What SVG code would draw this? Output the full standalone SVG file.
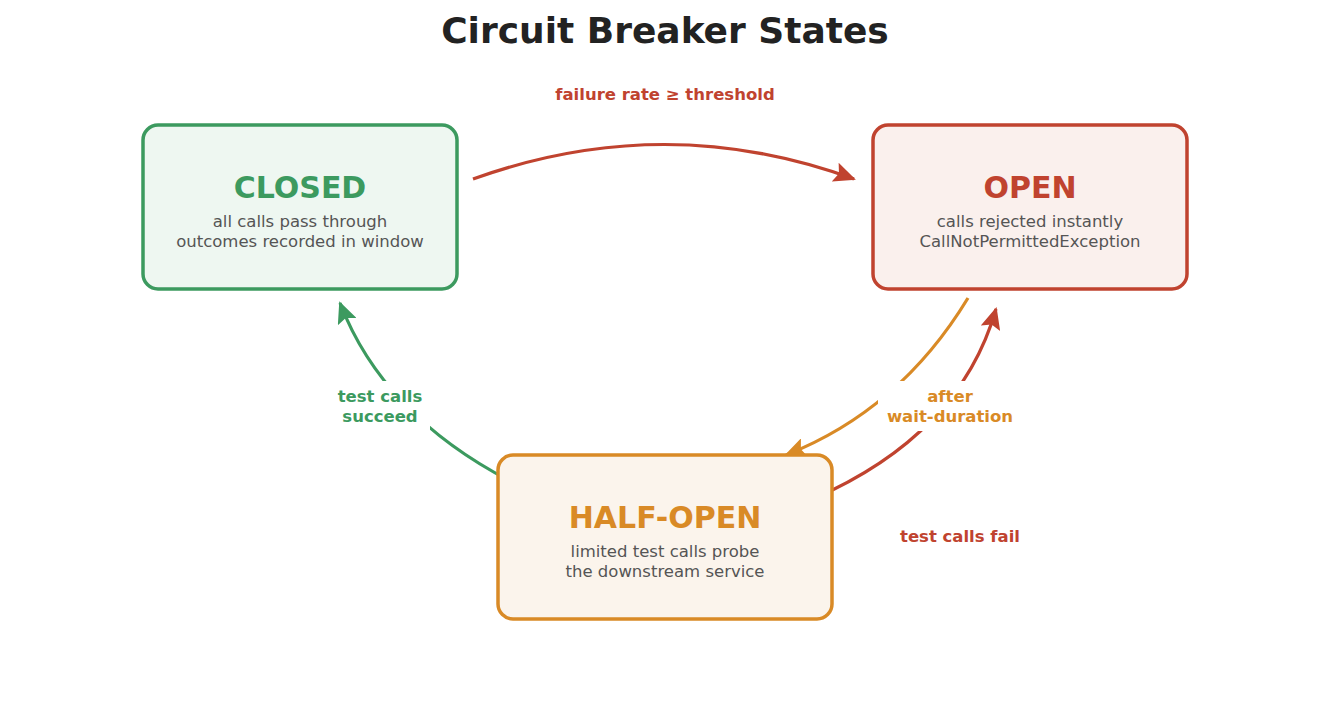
<svg xmlns="http://www.w3.org/2000/svg" width="1330" height="707" viewBox="0 0 1330 707">
<style>
text{font-family:"DejaVu Sans","Noto Sans",sans-serif;text-anchor:middle}
.t{font-size:30px;font-weight:bold}
.s{font-size:16.5px;fill:#555}
.l{font-size:16.5px;font-weight:bold}
.c{fill:none;stroke-width:3.2}
</style>
<defs>
<marker id="mr" viewBox="0 0 10 10" refX="9" refY="5" markerWidth="6" markerHeight="6" orient="auto" markerUnits="userSpaceOnUse" style="overflow:visible"><path d="M0,0L10,5L0,10z" fill="#c0432f" transform="scale(2.2) translate(-5,-5) translate(5,5)"/></marker>
<marker id="ar" markerWidth="22" markerHeight="20" refX="20" refY="10" orient="auto" markerUnits="userSpaceOnUse"><path d="M0,0L22,10L0,20L4,10z" fill="#c0432f"/></marker>
<marker id="ag" markerWidth="22" markerHeight="20" refX="20" refY="10" orient="auto" markerUnits="userSpaceOnUse"><path d="M0,0L22,10L0,20L4,10z" fill="#3c9a5f"/></marker>
<marker id="ao" markerWidth="22" markerHeight="20" refX="20" refY="10" orient="auto" markerUnits="userSpaceOnUse"><path d="M0,0L22,10L0,20L4,10z" fill="#d98a26"/></marker>
</defs>
<rect width="1330" height="707" fill="#fff"/>
<text x="665" y="43" style="font-size:36px;font-weight:bold;fill:#222">Circuit Breaker States</text>
<g id="connectors">
<path class="c" stroke="#c0432f" d="M473,179 Q665,110 854,179" marker-end="url(#ar)"/>
<path class="c" stroke="#3c9a5f" d="M522,487 Q385,420 340,303" marker-end="url(#ag)"/>
<path class="c" stroke="#d98a26" d="M968,298 Q900,410 786,455" marker-end="url(#ao)"/>
<path class="c" stroke="#c0432f" d="M813,499 Q960,435 996,309" marker-end="url(#ar)"/>
<rect x="332" y="381" width="98" height="50" fill="#fff"/>
<rect x="878" y="381" width="146" height="50" fill="#fff"/>
<text class="l" x="665" y="100" fill="#c0432f">failure rate ≥ threshold</text>
<text class="l" x="380" y="402" fill="#3c9a5f">test calls</text>
<text class="l" x="380" y="422" fill="#3c9a5f">succeed</text>
<text class="l" x="950" y="402" fill="#d98a26">after</text>
<text class="l" x="950" y="422" fill="#d98a26">wait-duration</text>
<text class="l" x="960" y="542" fill="#c0432f">test calls fail</text>
</g>
<g id="closed">
<rect x="143" y="125" width="314" height="164" rx="15" fill="#eef7f1" stroke="#3c9a5f" stroke-width="3.5"/>
<text class="t" x="300" y="198" fill="#3c9a5f">CLOSED</text>
<text class="s" x="300" y="227">all calls pass through</text>
<text class="s" x="300" y="247">outcomes recorded in window</text>
</g>
<g id="open">
<rect x="873" y="125" width="314" height="164" rx="15" fill="#faf0ed" stroke="#c0432f" stroke-width="3.5"/>
<text class="t" x="1030" y="198" fill="#c0432f">OPEN</text>
<text class="s" x="1030" y="227">calls rejected instantly</text>
<text class="s" x="1030" y="247">CallNotPermittedException</text>
</g>
<g id="halfopen">
<rect x="498" y="455" width="334" height="164" rx="15" fill="#fbf4ec" stroke="#d98a26" stroke-width="3.5"/>
<text class="t" x="665" y="528" fill="#d98a26">HALF-OPEN</text>
<text class="s" x="665" y="557">limited test calls probe</text>
<text class="s" x="665" y="577">the downstream service</text>
</g>
</svg>
